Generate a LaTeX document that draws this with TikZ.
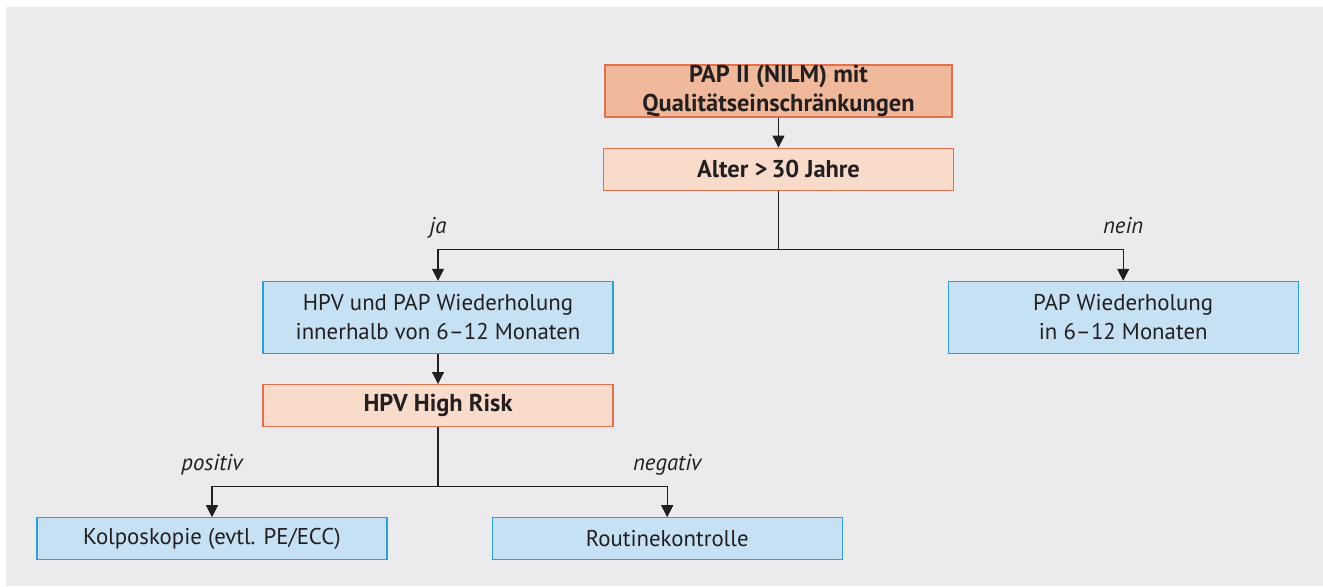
\documentclass[tikz,border=0pt]{standalone}
\usepackage{fontspec}
\setmainfont{PT Sans}
\usetikzlibrary{positioning,calc,arrows.meta}
\definecolor{bggray}{HTML}{EBEBED}
\definecolor{textdark}{HTML}{231F20}
\definecolor{salmon}{HTML}{F0B99B}
\definecolor{peach}{HTML}{F9DBCB}
\definecolor{orangeline}{HTML}{E2714B}
\definecolor{skyfill}{HTML}{C6E1F4}
\definecolor{skyline}{HTML}{2C9FDB}
\newcommand{\boxfont}{\fontsize{11.4}{14.5}\selectfont}
\newcommand{\headfont}{\fontsize{12.2}{14.5}\selectfont\bfseries}

\tikzset{
	box/.style={draw, line width=0.6pt, minimum width=175pt, align=center, inner sep=0pt, text=textdark, font=\boxfont},
	head/.style={box, fill=salmon, draw=orangeline, minimum width=173.5pt, minimum height=26pt, font=\headfont},
	query/.style={box, fill=peach, draw=orangeline, minimum height=21pt, font=\headfont},
	result/.style={box, fill=skyfill, draw=skyline, minimum height=21pt},
	arr/.style={-{Triangle[width=6pt,length=6pt]}, line width=0.6pt, draw=textdark},
	lbl/.style={inner sep=0pt, text height=7pt, text depth=2pt, text=textdark, font=\boxfont\itshape}
}

\begin{document}
\begin{tikzpicture}
	\useasboundingbox (0,0) rectangle (661.5pt,-293pt);
	\fill[bggray] (3pt,-3.5pt) rectangle (661.5pt,-293pt);

	\node[head] (pap2) at (389.25pt,-45.5pt) {PAP II (NILM) mit\\Qualitätseinschränkungen};
	\node[query, below=15pt of pap2] (alter) {Alter >\,30 Jahre};
	\node[result, minimum height=36pt, below=45pt of alter, xshift=-170.25pt] (hpvpap) {HPV und PAP Wiederholung\\innerhalb von 6–12 Monaten};
	\node[result, minimum height=36pt, right=167pt of hpvpap] (papwdh) {PAP Wiederholung\\in 6–12 Monaten};
	\node[query, below=15pt of hpvpap] (hrisk) {HPV High Risk};
	\node[result, below=45pt of hrisk, xshift=-113pt] (kolpo) {Kolposkopie (evtl. PE/ECC)};
	\node[result, right=52pt of kolpo] (routine) {Routinekontrolle};

	% branch points
	\coordinate[below=29.5pt of alter] (split1);
	\coordinate[below=29.5pt of hrisk] (split2);
	\coordinate (jaknick) at (hpvpap |- split1);
	\coordinate (neinknick) at (papwdh |- split1);
	\coordinate (posknick) at (kolpo |- split2);
	\coordinate (negknick) at (routine |- split2);

	\node[lbl, above=6pt of jaknick] (ja) {ja};
	\node[lbl, above=6pt of neinknick] (nein) {nein};
	\node[lbl, above=5.5pt of posknick] (pos) {positiv};
	\node[lbl, above=5.5pt of negknick] (neg) {negativ};

	\draw[arr] (pap2) -- (alter);
	\draw[line width=0.6pt, textdark] (alter) -- (split1);
	\draw[arr] (split1) -| (hpvpap);
	\draw[arr] (split1) -| (papwdh);
	\draw[arr] (hpvpap) -- (hrisk);
	\draw[line width=0.6pt, textdark] (hrisk) -- (split2);
	\draw[arr] (split2) -| (kolpo);
	\draw[arr] (split2) -| (routine);
\end{tikzpicture}
\end{document}
